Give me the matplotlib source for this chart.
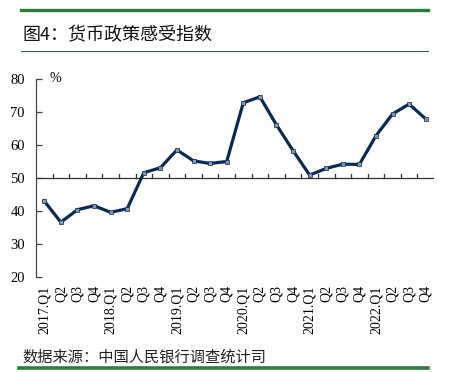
import matplotlib
matplotlib.use("Agg")
from matplotlib import pyplot as plt
from matplotlib.lines import Line2D

plt.rcParams['font.family'] = ['Noto Sans CJK SC', 'DejaVu Sans']

# 数据
quarters = ["2017.Q1", "Q2", "Q3", "Q4",
            "2018.Q1", "Q2", "Q3", "Q4",
            "2019.Q1", "Q2", "Q3", "Q4",
            "2020.Q1", "Q2", "Q3", "Q4",
            "2021.Q1", "Q2", "Q3", "Q4",
            "2022.Q1", "Q2", "Q3", "Q4"]
values = [43.0, 36.6, 40.4, 41.6, 39.6, 40.7, 51.6, 53.1,
          58.5, 55.2, 54.4, 55.0, 72.8, 74.6, 66.1, 58.3,
          50.9, 52.9, 54.2, 54.1, 62.8, 69.4, 72.4, 67.9]
y_ticks = [20, 30, 40, 50, 60, 70, 80]

title = "图4：货币政策感受指数"
source = "数据来源：中国人民银行调查统计司"

W, H = 449, 372
fig = plt.figure(figsize=(W / 100, H / 100), dpi=100)

# 绿色分隔线
green = "#2f7a3c"
fig.add_artist(Line2D([21 / W, 428 / W], [1 - 10 / H, 1 - 10 / H], color=green, lw=2.4))
fig.add_artist(Line2D([21 / W, 428 / W], [1 - 51 / H, 1 - 51 / H], color="#3d5a45", lw=0.8))
fig.add_artist(Line2D([19 / W, 428 / W], [1 - 368 / H, 1 - 368 / H], color=green, lw=2.6))

fig.text(22 / W, 1 - 35 / H, title, fontsize=13, va="center", ha="left", color="#111111")
fig.text(22 / W, 1 - 357 / H, source, fontsize=11, va="center", ha="left", color="#222222")

ax = fig.add_axes([36 / W, 1 - 277 / H, (434 - 36) / W, (277 - 79) / H])
x = list(range(len(values)))
ax.plot(x, values, color="#0b2a52", lw=2.3, marker="s", markersize=2.2,
        markerfacecolor="#8797ad", markeredgecolor="#0b2a52", markeredgewidth=0.5, zorder=3)

ax.set_xlim(-0.5, len(values) - 0.5)
ax.set_ylim(20, 80)
for s in ["top", "right", "bottom"]:
    ax.spines[s].set_visible(False)
ax.spines["left"].set_color("#444444")
ax.spines["left"].set_linewidth(0.9)

# 50 处的水平轴线及刻度
ax.axhline(50, color="#333333", lw=0.9, zorder=2)
for i in range(len(values)):
    ax.plot([i + 0.5, i + 0.5], [50, 51.3], color="#333333", lw=0.9, zorder=2)

ax.set_yticks(y_ticks)
ax.set_yticklabels([str(v) for v in y_ticks], family=["Liberation Serif"], fontsize=10.5)
ax.tick_params(axis="y", direction="in", length=4, width=0.9, color="#444444", pad=8)

ax.set_xticks(x)
ax.set_xticklabels(quarters, rotation=90, family=["Liberation Serif"], fontsize=10)
ax.tick_params(axis="x", length=0, pad=6)

ax.text(13 / (434 - 36), 1.0, "%", transform=ax.transAxes, fontsize=10,
        family=["Liberation Serif"], va="center", ha="left")

fig.savefig("out.png", dpi=100)
